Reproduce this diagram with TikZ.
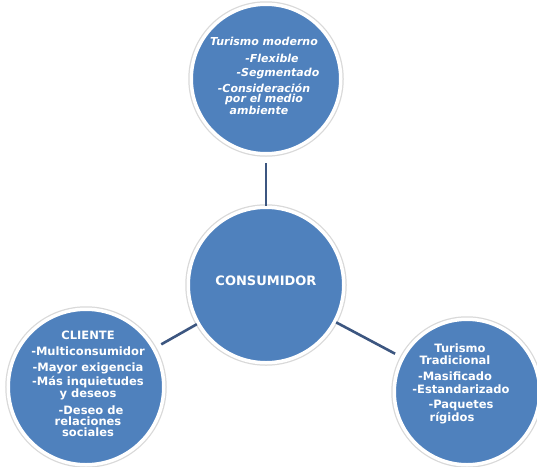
\documentclass[tikz,border=0pt]{standalone}
\usepackage{fontspec}
\setmainfont{DejaVu Sans}
\usetikzlibrary{positioning}
\definecolor{bubble}{RGB}{79,129,189}
\definecolor{link}{RGB}{60,86,128}

\begin{document}
\begin{tikzpicture}[
  x=1pt, y=-1pt,
  every node/.style={font=\bfseries\fontsize{11.5}{11.2}\selectfont, text=white},
  bubble/.style={circle, fill=bubble, draw=white, line width=3.5pt, inner sep=0pt,
                 preaction={draw=black!15, line width=6pt}},
  label/.style={align=center, inner sep=0pt},
  connect/.style={draw=link, line width=2.6pt, shorten >=7pt}
]

\useasboundingbox[fill=white] (0,0) rectangle (537,466);

% Circles
\node[bubble, minimum size=149.5pt] (moderno) at (266,79) {};
\node[bubble, minimum size=155.5pt] (consumidor) at (266,285) {};
\node[bubble, minimum size=155.5pt] (cliente) at (86,387) {};
\node[bubble, minimum size=145.5pt] (tradicional) at (467,392) {};

% Spokes
\draw[connect] (consumidor) -- (moderno);
\draw[connect] (consumidor) -- (cliente);
\draw[connect] (consumidor) -- (tradicional);

% Texts
\node[label, font=\bfseries\fontsize{13}{15}\selectfont]
  (consumidor-txt) at ([yshift=4pt]consumidor.center) {CONSUMIDOR};

\node[label, font=\bfseries\itshape\fontsize{11}{10.5}\selectfont]
  (moderno-txt) at ([xshift=-2pt, yshift=3pt]moderno.center)
  {Turismo moderno\\[6pt]
   \hspace*{16pt}-Flexible\\[4pt]
   \hspace*{28pt}-Segmentado\\[3pt]
   -Consideración\\
   por el medio\\
   ambiente\hspace*{10pt}};

\node[label] (cliente-txt) at ([xshift=2pt, yshift=3pt]cliente.center)
  {CLIENTE\\[5pt]
   -Multiconsumidor\\[4pt]
   -Mayor exigencia\\[2pt]
   -Más inquietudes\\
   y deseos\\[5pt]
   \hspace*{6pt}-Deseo de\\
   relaciones\\
   sociales};

\node[label] (tradicional-txt) at ([xshift=-12pt, yshift=8pt]tradicional.center)
  {\hspace*{10pt}Turismo\\
   Tradicional\\[5pt]
   -Masificado\\[2pt]
   \hspace*{12pt}-Estandarizado\\[4pt]
   \hspace*{12pt}-Paquetes\\
   rígidos\hspace*{6pt}};

\end{tikzpicture}
\end{document}
